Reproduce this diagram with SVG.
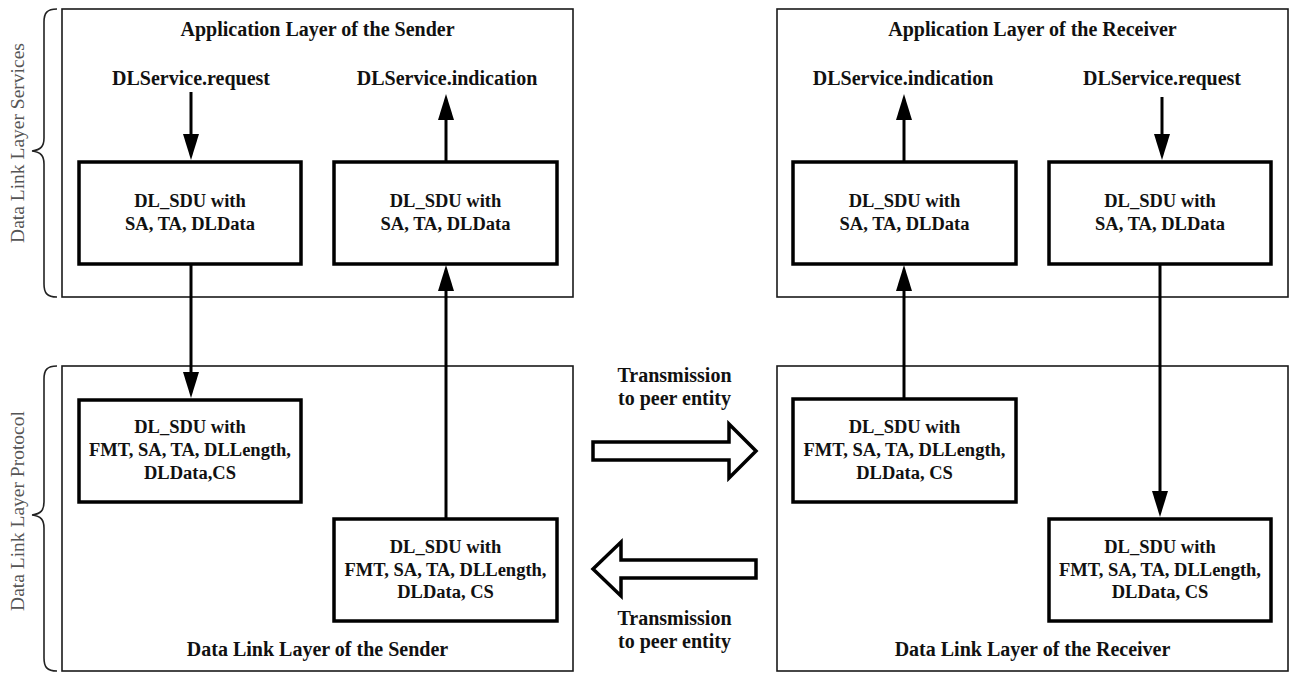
<svg xmlns="http://www.w3.org/2000/svg" width="1291" height="673" viewBox="0 0 1291 673">
<style>
  .outer { fill: none; stroke: #1a1a1a; stroke-width: 1.6; }
  .inner { fill: #fff; stroke: #000; stroke-width: 3.5; }
  .t { font-family: "Liberation Serif", "Times New Roman", serif; font-weight: bold; font-size: 20px; fill: #111; text-anchor: middle; }
  .b { font-size: 18.5px; }
  .side { font-family: "Liberation Serif", "Times New Roman", serif; font-size: 19.5px; fill: #555; text-anchor: middle; }
  .brace { fill: none; stroke: #222; stroke-width: 1.6; }
  .conn { fill: none; stroke: #000; stroke-width: 3; marker-end: url(#ah); }
  .block { fill: #fff; stroke: #000; stroke-width: 3.5; stroke-linejoin: miter; }
</style>
<defs>
  <marker id="ah" markerUnits="userSpaceOnUse" markerWidth="27" markerHeight="17" refX="0" refY="8.5" orient="auto" overflow="visible">
    <path d="M0,0.5 L26,8.5 L0,16.5 Z" fill="#000"/>
  </marker>
</defs>
<rect width="1291" height="673" fill="#fff"/>

<g id="brace-services">
  <path class="brace" d="M57,9 C47,9 44,13 44,22 L44,138 C44,146 41,150 32,151 C41,152 44,156 44,164 L44,284 C44,293 47,297 57,297"/>
  <text class="side" transform="translate(24,143) rotate(-90)">Data Link Layer Services</text>
</g>
<g id="brace-protocol">
  <path class="brace" d="M57,366 C47,366 44,370 44,379 L44,502 C44,510 41,514 32,515 C41,516 44,520 44,528 L44,658 C44,667 47,671 57,671"/>
  <text class="side" transform="translate(24,511) rotate(-90)">Data Link Layer Protocol</text>
</g>

<g id="app-sender">
  <rect class="outer" x="62" y="9" width="511" height="288"/>
  <text class="t" x="317.5" y="36">Application Layer of the Sender</text>
  <text class="t" x="191" y="85">DLService.request</text>
  <text class="t" x="447" y="85">DLService.indication</text>
</g>
<g id="app-receiver">
  <rect class="outer" x="777" y="9" width="511" height="288"/>
  <text class="t" x="1032.5" y="36">Application Layer of the Receiver</text>
  <text class="t" x="903" y="85">DLService.indication</text>
  <text class="t" x="1162" y="85">DLService.request</text>
</g>
<g id="dl-sender">
  <rect class="outer" x="62" y="366" width="511" height="305"/>
  <text class="t" x="317.5" y="656">Data Link Layer of the Sender</text>
</g>
<g id="dl-receiver">
  <rect class="outer" x="777" y="366" width="511" height="305"/>
  <text class="t" x="1032.5" y="656">Data Link Layer of the Receiver</text>
</g>

<g id="connectors">
  <line class="conn" x1="191" y1="92" x2="191" y2="134"/>
  <line class="conn" x1="446" y1="162" x2="446" y2="120"/>
  <line class="conn" x1="191" y1="264" x2="191" y2="372"/>
  <line class="conn" x1="446" y1="519" x2="446" y2="291"/>
  <line class="conn" x1="904" y1="162" x2="904" y2="120"/>
  <line class="conn" x1="1162" y1="97" x2="1162" y2="134"/>
  <line class="conn" x1="904" y1="399" x2="904" y2="291"/>
  <line class="conn" x1="1160" y1="264" x2="1160" y2="491"/>
</g>

<g id="sdu-app-sender-req">
  <rect class="inner" x="79" y="162" width="222" height="102"/>
  <text class="t b" x="190" y="207">DL_SDU with</text>
  <text class="t b" x="190" y="230">SA, TA, DLData</text>
</g>
<g id="sdu-app-sender-ind">
  <rect class="inner" x="334" y="162" width="223" height="102"/>
  <text class="t b" x="445.5" y="207">DL_SDU with</text>
  <text class="t b" x="445.5" y="230">SA, TA, DLData</text>
</g>
<g id="sdu-app-receiver-ind">
  <rect class="inner" x="793" y="162" width="223" height="102"/>
  <text class="t b" x="904.5" y="207">DL_SDU with</text>
  <text class="t b" x="904.5" y="230">SA, TA, DLData</text>
</g>
<g id="sdu-app-receiver-req">
  <rect class="inner" x="1049" y="162" width="222" height="102"/>
  <text class="t b" x="1160" y="207">DL_SDU with</text>
  <text class="t b" x="1160" y="230">SA, TA, DLData</text>
</g>

<g id="sdu-dl-sender-out">
  <rect class="inner" x="79" y="400" width="222" height="102"/>
  <text class="t b" x="190" y="433">DL_SDU with</text>
  <text class="t b" x="190" y="456">FMT, SA, TA, DLLength,</text>
  <text class="t b" x="190" y="479">DLData,CS</text>
</g>
<g id="sdu-dl-sender-in">
  <rect class="inner" x="334" y="519" width="223" height="102"/>
  <text class="t b" x="445.5" y="553">DL_SDU with</text>
  <text class="t b" x="445.5" y="576">FMT, SA, TA, DLLength,</text>
  <text class="t b" x="445.5" y="598">DLData, CS</text>
</g>
<g id="sdu-dl-receiver-in">
  <rect class="inner" x="793" y="399" width="223" height="103"/>
  <text class="t b" x="904.5" y="433">DL_SDU with</text>
  <text class="t b" x="904.5" y="456">FMT, SA, TA, DLLength,</text>
  <text class="t b" x="904.5" y="479">DLData, CS</text>
</g>
<g id="sdu-dl-receiver-out">
  <rect class="inner" x="1049" y="519" width="222" height="102"/>
  <text class="t b" x="1160" y="553">DL_SDU with</text>
  <text class="t b" x="1160" y="576">FMT, SA, TA, DLLength,</text>
  <text class="t b" x="1160" y="598">DLData, CS</text>
</g>

<g id="transmission-right">
  <text class="t" x="674.5" y="382">Transmission</text>
  <text class="t" x="674.5" y="405">to peer entity</text>
  <polygon class="block" points="593,442 729,442 729,424 756,451 729,478 729,460 593,460"/>
</g>
<g id="transmission-left">
  <polygon class="block" points="756,560 621,560 621,542 593,569 621,596 621,578 756,578"/>
  <text class="t" x="674.5" y="625">Transmission</text>
  <text class="t" x="674.5" y="648">to peer entity</text>
</g>
</svg>
